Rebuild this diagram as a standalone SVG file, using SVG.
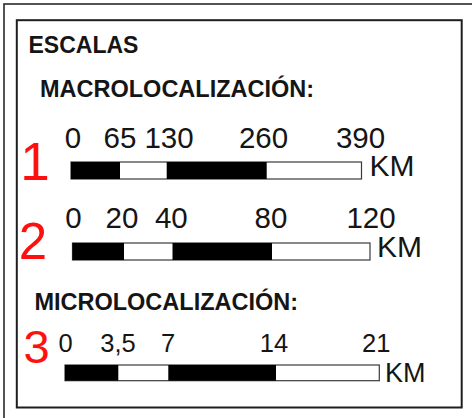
<svg xmlns="http://www.w3.org/2000/svg" width="472" height="418" viewBox="0 0 472 418">
<style>
.frame{fill:none;stroke:#2a2a2a;stroke-width:1.6}
.inner{fill:#fff;stroke:#1e1e1e;stroke-width:2}
.title{font-family:"Liberation Sans",Arial,sans-serif;font-weight:bold;fill:#151515}
.lbl{font-family:"Liberation Sans",Arial,sans-serif;fill:#151515;text-anchor:middle}
.km{font-family:"Liberation Sans",Arial,sans-serif;fill:#151515}
.num{font-family:"Liberation Sans",Arial,sans-serif;fill:#ff1010;text-anchor:middle}
.bar{fill:#fff;stroke:#3a3a3a;stroke-width:1.2}
.blk{fill:#000}
</style>
<rect x="0" y="0" width="472" height="418" fill="#fff"/>
<rect class="frame" x="4" y="4" width="520" height="520"/>
<rect class="inner" x="16.8" y="20.2" width="444.9" height="387.3"/>
<g id="header">
<text class="title" x="28.5" y="53.3" font-size="23">ESCALAS</text>
<text class="title" x="40" y="96.7" font-size="23.5">MACROLOCALIZACIÓN:</text>
<text class="title" x="34.4" y="310" font-size="23.5">MICROLOCALIZACIÓN:</text>
</g>
<g id="scale1">
<text class="num" x="35" y="180" font-size="53">1</text>
<rect class="bar" x="71" y="162" width="290.5" height="17"/>
<rect class="blk" x="71" y="162" width="49" height="17"/>
<rect class="blk" x="166.7" y="162" width="100" height="17"/>
<g font-size="29.5">
<text class="lbl" x="73" y="147.7">0</text>
<text class="lbl" x="120" y="147.7">65</text>
<text class="lbl" x="169" y="147.7">130</text>
<text class="lbl" x="263.5" y="147.7">260</text>
<text class="lbl" x="360.5" y="147.7">390</text>
</g>
<text class="km" x="369.5" y="175.7" font-size="30">KM</text>
</g>
<g id="scale2">
<text class="num" x="33" y="259.3" font-size="51">2</text>
<rect class="bar" x="72.5" y="243" width="297.5" height="17"/>
<rect class="blk" x="72.5" y="243" width="51.5" height="17"/>
<rect class="blk" x="172.5" y="243" width="99.5" height="17"/>
<g font-size="29.5">
<text class="lbl" x="73.5" y="228.3">0</text>
<text class="lbl" x="122" y="228.3">20</text>
<text class="lbl" x="171.3" y="228.3">40</text>
<text class="lbl" x="271" y="228.3">80</text>
<text class="lbl" x="371" y="228.3">120</text>
</g>
<text class="km" x="377" y="256.7" font-size="30">KM</text>
</g>
<g id="scale3">
<text class="num" x="36.5" y="363" font-size="47">3</text>
<rect class="bar" x="65" y="365" width="314.3" height="15.7"/>
<rect class="blk" x="65" y="365" width="53.3" height="15.7"/>
<rect class="blk" x="168.3" y="365" width="107.7" height="15.7"/>
<g font-size="25.5">
<text class="lbl" x="65.5" y="352.3">0</text>
<text class="lbl" x="118" y="352.3">3,5</text>
<text class="lbl" x="168" y="352.3">7</text>
<text class="lbl" x="274" y="352.3">14</text>
<text class="lbl" x="376.3" y="352.3">21</text>
</g>
<text class="km" x="385" y="381.7" font-size="27">KM</text>
</g>
</svg>
